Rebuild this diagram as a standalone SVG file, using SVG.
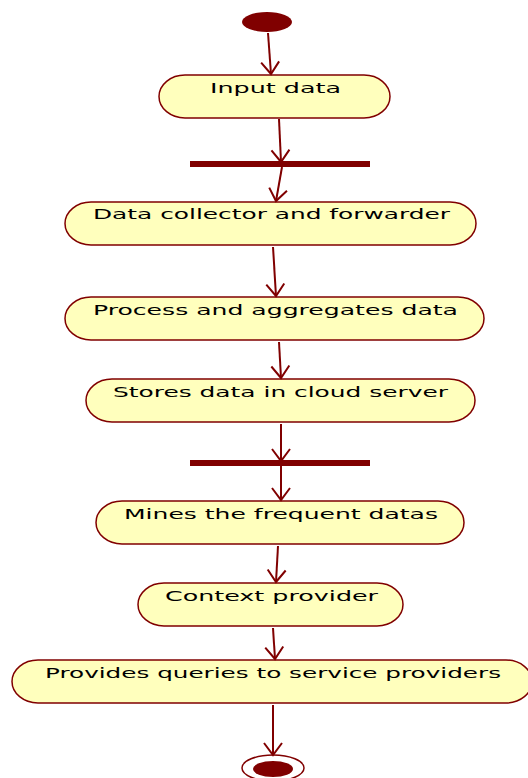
<svg xmlns="http://www.w3.org/2000/svg" width="528" height="778" viewBox="0 0 528 778">
  <defs>
    <style>
      .act { fill: #FFFFBD; stroke: #800000; stroke-width: 1.5; }
      .lbl { font-family: "DejaVu Sans", Verdana, sans-serif; font-size: 14.5px; fill: #000; }
      .flow { fill: none; stroke: #800000; stroke-width: 2; marker-end: url(#vee); }
      .bar { fill: #800000; }
    </style>
    <marker id="vee" markerUnits="userSpaceOnUse" markerWidth="30" markerHeight="30" refX="0" refY="0" viewBox="-15 -15 30 30" orient="auto" overflow="visible">
      <path d="M -12 -9 L 0 0 L -12 9" fill="none" stroke="#800000" stroke-width="2"/>
    </marker>
  </defs>
  <rect width="528" height="778" fill="#FFFFFF"/>

  <g id="start">
    <ellipse cx="267" cy="22" rx="25" ry="10" fill="#800000"/>
  </g>

  <g id="input-data">
    <rect class="act" x="159" y="75" width="231" height="43" rx="26" ry="21.5"/>
    <text class="lbl" x="210" y="93" textLength="131" lengthAdjust="spacingAndGlyphs">Input data</text>
  </g>

  <g id="fork-1">
    <rect class="bar" x="190" y="161" width="180" height="6"/>
  </g>

  <g id="collector">
    <rect class="act" x="65" y="202" width="411" height="43" rx="26" ry="21.5"/>
    <text class="lbl" x="93" y="219" textLength="357" lengthAdjust="spacingAndGlyphs">Data collector and forwarder</text>
  </g>

  <g id="process">
    <rect class="act" x="65" y="297" width="419" height="43" rx="26" ry="21.5"/>
    <text class="lbl" x="93" y="315" textLength="365" lengthAdjust="spacingAndGlyphs">Process and aggregates data</text>
  </g>

  <g id="store">
    <rect class="act" x="86" y="379" width="389" height="43" rx="26" ry="21.5"/>
    <text class="lbl" x="113" y="397" textLength="335" lengthAdjust="spacingAndGlyphs">Stores data in cloud server</text>
  </g>

  <g id="fork-2">
    <rect class="bar" x="190" y="460" width="180" height="6"/>
  </g>

  <g id="mine">
    <rect class="act" x="96" y="501" width="368" height="43" rx="26" ry="21.5"/>
    <text class="lbl" x="124" y="519" textLength="314" lengthAdjust="spacingAndGlyphs">Mines the frequent datas</text>
  </g>

  <g id="context">
    <rect class="act" x="138" y="583" width="265" height="43" rx="26" ry="21.5"/>
    <text class="lbl" x="165" y="601" textLength="213" lengthAdjust="spacingAndGlyphs">Context provider</text>
  </g>

  <g id="queries">
    <rect class="act" x="12" y="660" width="520" height="43" rx="26" ry="21.5"/>
    <text class="lbl" x="45" y="678" textLength="456" lengthAdjust="spacingAndGlyphs">Provides queries to service providers</text>
  </g>

  <g id="end">
    <ellipse cx="273" cy="768" rx="31" ry="13" fill="#FFFFFF" stroke="#800000" stroke-width="1.5"/>
    <ellipse cx="273" cy="769" rx="20" ry="8" fill="#800000"/>
  </g>

  <g id="connectors">
    <path class="flow" d="M 268 33 L 271 74"/>
    <path class="flow" d="M 279 119 L 281 162"/>
    <path class="flow" d="M 282 167 L 276 201"/>
    <path class="flow" d="M 273 247 L 276 296"/>
    <path class="flow" d="M 279 342 L 281 378"/>
    <path class="flow" d="M 281 424 L 281 461"/>
    <path class="flow" d="M 281 466 L 281 500"/>
    <path class="flow" d="M 278 546 L 276 582"/>
    <path class="flow" d="M 273 628 L 275 659"/>
    <path class="flow" d="M 273 705 L 273 755"/>
  </g>
</svg>
